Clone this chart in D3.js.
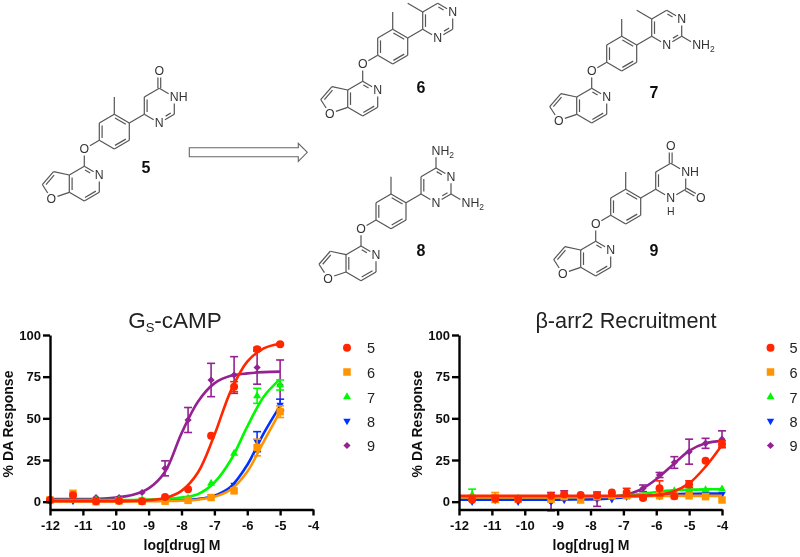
<!DOCTYPE html>
<html>
<head>
<meta charset="utf-8">
<script src="https://cdn.jsdelivr.net/npm/d3@7/dist/d3.min.js"></script>
<style>
  html, body { margin: 0; padding: 0; background: #fff; }
  text { font-family: "Liberation Sans", Arial, sans-serif; }
</style>
</head>
<body>
<div id="chart"></div>
<script>
// ---- compound labels, same order in both charts
const compounds = ["5", "6", "7", "8", "9"];
const colors = ["#FF2600", "#FF9300", "#00F900", "#0433FF", "#942192"];

// ---- left chart, Gs-cAMP
const gsDoses = [-12, -11.3, -10.6, -9.9, -9.2, -8.5, -7.8, -7.1, -6.4, -5.7, -5];
const gs5 = [1, 3.8, 0.3, 0.5, 0.3, 2.8, 7.5, 39.5, 69, 91.5, 94.5];
const gs6 = [1, 5, 0, 0.5, 0.3, 0.3, 0.8, 2.5, 6.5, 32.5, 54];
const gs7 = [1, 1, 1, 1, 1, 1.5, 2, 11, 29, 63.5, 70];
const gs8 = [0.5, 0.5, 0.5, 0.5, 0.5, 0.8, 1, 3, 10, 36, 58];
const gs9 = [1, 1.5, 2.5, 2.5, 5.5, 20, 49, 73, 76, 80.5, 70];
const gsErr5 = [0, 0, 0, 0, 0, 0, 0, 0, 3, 1, 0.5];
const gsErr6 = [0, 0, 0, 0, 0, 0, 0, 0, 0, 5, 3.5];
const gsErr7 = [0, 0, 0, 0, 0, 0, 0, 0, 0, 4.5, 3];
const gsErr8 = [0, 0, 0, 0, 0, 0, 0, 0, 0, 6, 3.5];
const gsErr9 = [0, 0, 0, 0, 0, 4.5, 7.5, 10, 11, 10, 15];
const gsCurveX = [-12, -11.5, -11, -10.5, -10, -9.5, -9, -8.5, -8, -7.5, -7, -6.5, -6, -5.5, -5];
const gsCurve5 = [0.3, 0.3, 0.3, 0.3, 0.3, 0.4, 0.9, 2.2, 6.5, 17.5, 40, 66.5, 84, 92, 94.8];
const gsCurve6 = [0.2, 0.2, 0.2, 0.2, 0.2, 0.2, 0.3, 0.4, 0.6, 1.2, 2.9, 7.3, 18, 36, 54];
const gsCurve7 = [1, 1, 1, 1, 1, 1, 1.2, 1.6, 2.5, 4.5, 11.5, 25, 45, 63, 73.5];
const gsCurve8 = [0.6, 0.6, 0.6, 0.6, 0.6, 0.6, 0.7, 0.8, 1, 1.6, 3.6, 9, 22, 41, 57.5];
const gsCurve9 = [1.6, 1.6, 1.6, 1.7, 2.5, 4, 8, 18, 41, 60, 71, 75.5, 77, 77.7, 78];

// ---- right chart, b-arr2
const arrDoses = [-11.6, -10.9, -10.2, -9.2, -8.8, -8.3, -7.8, -7.35, -6.9, -6.4, -5.9, -5.45, -5, -4.5, -4];
const arr5 = [1.2, 1.8, 1.5, 3.5, 4.5, 4, 3.8, 5.5, 5.5, 2.2, 8, 3.3, 10.5, 24.5, 34.5];
const arr6 = [2, 2.5, 1.5, 1.5, 3, 1, 3, 3.5, 3.5, 3, 3.5, 3.5, 3.5, 3, 1];
const arr7 = [4, 3, 2, 1, 3, 3, 3, 3, 3, 3.5, 6, 6.5, 7, 7, 7.5];
const arr8 = [0, 1, 0, 0, 1, 3, 2, 1.5, 3, 3, 3.5, 4, 4.5, 5, 4.5];
const arr9 = [2, 2, 2, 0, 5, 3.5, 1.5, 3, 4, 8, 16, 23.5, 30, 35, 37.5];
const arrErr5 = [0, 0, 0, 0, 0, 0, 0, 0, 2.5, 0, 4.5, 0, 2, 0, 2];
const arrErr6 = [0, 3, 0, 0, 0, 0, 0, 0, 0, 0, 0, 0, 0, 0, 0];
const arrErr7 = [3.5, 0, 0, 0, 0, 0, 0, 0, 0, 0, 0, 0, 0, 0, 0];
const arrErr8 = [0, 0, 0, 0, 0, 0, 0, 0, 0, 0, 0, 0, 0, 0, 0];
const arrErr9 = [0, 0, 0, 5.5, 1.5, 0, 4.3, 0, 0, 2, 1.5, 3.5, 7.5, 3, 5];
const arrCurveX = [-12, -11.5, -11, -10.5, -10, -9.5, -9, -8.5, -8, -7.5, -7, -6.5, -6, -5.5, -5, -4.5, -4];
const arrCurve5 = [3.5, 3.5, 3.5, 3.5, 3.5, 3.5, 3.5, 3.5, 3.5, 3.5, 3.5, 3.6, 4, 6, 11, 21, 34];
const arrCurve6 = [2.5, 2.5, 2.5, 2.5, 2.5, 2.5, 2.6, 2.7, 2.8, 2.9, 3, 3.2, 3.4, 3.5, 3.5, 3.5, 3.5];
const arrCurve7 = [2.8, 2.8, 2.8, 2.8, 2.8, 2.8, 2.8, 2.9, 3, 3.2, 3.5, 4.5, 5.8, 6.8, 7.2, 7.4, 7.5];
const arrCurve8 = [1.2, 1.2, 1.2, 1.2, 1.2, 1.2, 1.2, 1.3, 1.4, 1.8, 2.5, 3.3, 4, 4.5, 4.7, 4.8, 4.8];
const arrCurve9 = [2.5, 2.5, 2.5, 2.5, 2.5, 2.5, 2.5, 2.6, 2.6, 2.7, 3.8, 7, 13.5, 22, 30.5, 35, 36.5];

const yTicks = [0, 25, 50, 75, 100];
const gsXTicks = d3.range(-12, -3);
const arrXTicks = d3.range(-12, -3);

const svgRoot = d3.select("#chart").append("svg").attr("width", 800).attr("height", 557);
// the reference is a soft raster, keep the same softness
svgRoot.append("filter").attr("id", "soft").append("feGaussianBlur").attr("stdDeviation", 0.4);
const svg = svgRoot.append("g").attr("filter", "url(#soft)");
svg.append("rect").attr("width", 800).attr("height", 557).attr("fill", "#fff");

// ---- charts
function drawChart(opts) {
  const x = d3.scaleLinear().domain([-12, -4]).range([opts.left, opts.left + 263]);
  const y = d3.scaleLinear().domain([-4.7, 100]).range([509.5, 335]);
  const g = svg.append("g");

  const series = compounds.map((c, i) => ({
    name: c, color: colors[i], values: opts.values[i], errs: opts.errs[i], curve: opts.curves[i], index: i
  }));

  // first data set ends up on top, so draw backwards
  const line = d3.line().x(d => x(d[0])).y(d => y(d[1])).curve(d3.curveCatmullRom.alpha(0.5));
  series.slice().reverse().forEach(s => {
    const sg = g.append("g");
    sg.append("path")
      .datum(opts.curveX.map((v, i) => [v, s.curve[i]]))
      .attr("d", line).attr("fill", "none").attr("stroke", s.color).attr("stroke-width", 2.6);

    const bars = opts.doses.map((d, i) => [d, s.values[i], s.errs[i]]).filter(d => d[2] > 0);
    const eb = sg.selectAll(".eb").data(bars).enter().append("g")
      .attr("stroke", s.color).attr("stroke-width", 1.6).attr("fill", "none");
    eb.append("line").attr("x1", d => x(d[0])).attr("x2", d => x(d[0]))
      .attr("y1", d => y(d[1] - d[2])).attr("y2", d => y(d[1] + d[2]));
    [-1, 1].forEach(sign => {
      eb.append("line").attr("x1", d => x(d[0]) - 4).attr("x2", d => x(d[0]) + 4)
        .attr("y1", d => y(d[1] + sign * d[2])).attr("y2", d => y(d[1] + sign * d[2]));
    });

    sg.selectAll(".pt").data(opts.doses.map((d, i) => [d, s.values[i]])).enter().append("path")
      .attr("d", markerPath(s.index))
      .attr("transform", d => `translate(${x(d[0])},${y(d[1])})${markerRot(s.index)}`)
      .attr("fill", s.color);
  });

  const xAxis = d3.axisBottom(x).tickValues(opts.xTicks).tickFormat(d => d)
    .tickSizeInner(6).tickSizeOuter(0).tickPadding(5);
  const yAxis = d3.axisLeft(y).tickValues(yTicks).tickFormat(d => d)
    .tickSizeInner(7).tickSizeOuter(0).tickPadding(2);

  [g.append("g").attr("transform", `translate(0,509.5)`).call(xAxis),
   g.append("g").attr("transform", `translate(${opts.left},0)`).call(yAxis)].forEach(a => {
    a.selectAll("path,line").attr("stroke", "#000").attr("stroke-width", 2.4);
    a.selectAll("text").attr("font-size", 13).attr("font-weight", "bold").attr("fill", "#111")
      .style("font-family", '"Liberation Sans", Arial, sans-serif');
  });

  g.append("text").attr("x", opts.left + 132).attr("y", 550).attr("text-anchor", "middle")
    .attr("font-size", 14).attr("font-weight", "bold").attr("fill", "#111").text("log[drug] M");
  g.append("text").attr("transform", `translate(${opts.left - 37},424) rotate(-90)`)
    .attr("text-anchor", "middle").attr("font-size", 14).attr("font-weight", "bold").attr("fill", "#111")
    .text("% DA Response");

  // legend
  const leg = g.selectAll(".leg").data(series).enter().append("g")
    .attr("transform", (d, i) => `translate(${opts.legX},${[347.7, 372, 397, 421, 445.5][i]})`);
  leg.append("path").attr("d", d => markerPath(d.index))
    .attr("transform", d => markerRot(d.index)).attr("fill", d => d.color);
  leg.append("text").attr("x", opts.legDx).attr("y", 5.5).attr("font-size", 14.5).attr("fill", "#222").text(d => d.name);

  opts.title(g);
}

function markerPath(i) {
  const types = [d3.symbolCircle, d3.symbolSquare, d3.symbolTriangle, d3.symbolTriangle, d3.symbolSquare];
  const sizes = [50, 56, 28, 24, 26];
  return d3.symbol().type(types[i]).size(sizes[i])();
}
function markerRot(i) { return i === 3 ? " rotate(180)" : i === 4 ? " rotate(45)" : ""; }

drawChart({
  left: 50, doses: gsDoses, curveX: gsCurveX, xTicks: gsXTicks, legX: 347, legDx: 20,
  values: [gs5, gs6, gs7, gs8, gs9], errs: [gsErr5, gsErr6, gsErr7, gsErr8, gsErr9],
  curves: [gsCurve5, gsCurve6, gsCurve7, gsCurve8, gsCurve9],
  title: g => {
    const t = g.append("text").attr("x", 175).attr("y", 328).attr("text-anchor", "middle")
      .attr("font-size", 22.5).attr("fill", "#222");
    t.append("tspan").text("G");
    t.append("tspan").attr("font-size", 13).attr("dy", 4).text("S");
    t.append("tspan").attr("dy", -4).text("-cAMP");
  }
});
drawChart({
  left: 459, doses: arrDoses, curveX: arrCurveX, xTicks: arrXTicks, legX: 770.5, legDx: 19,
  values: [arr5, arr6, arr7, arr8, arr9], errs: [arrErr5, arrErr6, arrErr7, arrErr8, arrErr9],
  curves: [arrCurve5, arrCurve6, arrCurve7, arrCurve8, arrCurve9],
  title: g => {
    g.append("text").attr("x", 626).attr("y", 328).attr("text-anchor", "middle")
      .attr("font-size", 21.7).attr("fill", "#222").text("β-arr2 Recruitment");
  }
});

// ---- structures, atoms on a hexagon lattice around the ether oxygen
const LX = 15, LY = 8.67;
const scaffoldAtoms = {
  O0: [0, 0], a1: [1, -1], a2: [1, -3], a3: [2, -4], me: [2, -6], a4: [3, -3], a5: [3, -1], a6: [2, 0],
  p4: [0, 2], pN: [1, 3], p6: [1, 5], p7: [0, 6], p7a: [-1, 5], p3a: [-1, 3],
  f3: [-2.05, 2.6], f2: [-2.8, 4.1], fO: [-2.2, 5.7],
  s1: [4, -4], s2: [4, -6], s3: [5, -7], s4: [6, -6], s5: [6, -4], s6: [5, -3]
};
const PHENYL = [2, -2], PYRIDINE = [0, 4], FURAN = [-1.8, 4], SIDE = [5, -5];
const scaffoldBonds = [
  ["O0", "a1"], ["a1", "a2", PHENYL], ["a2", "a3"], ["a3", "me"], ["a3", "a4", PHENYL], ["a4", "a5"],
  ["a5", "a6", PHENYL], ["a6", "a1"], ["O0", "p4"], ["p4", "pN", PYRIDINE], ["pN", "p6"], ["p6", "p7", PYRIDINE],
  ["p7", "p7a"], ["p7a", "p3a", PYRIDINE], ["p3a", "p4"], ["p3a", "f3"], ["f3", "f2", FURAN], ["f2", "fO"],
  ["fO", "p7a"], ["a4", "s1"], ["s1", "s2", SIDE], ["s2", "s3"], ["s4", "s5"], ["s6", "s1"], ["s5", "s6", SIDE]
];
const scaffoldLabels = [["O0", "O"], ["pN", "N"], ["fO", "O"]];

const structures = [
  { name: "5", at: [84.3, 149], num: [146, 167],
    atoms: { o1: [5, -9] },
    bonds: [["s3", "o1", "cO"], ["s3", "s4"]],
    labels: [["o1", "O"], ["s4", "NH"], ["s6", "N"]] },
  { name: "6", at: [362.7, 64], num: [421, 87],
    atoms: { m2: [3, -7] },
    bonds: [["s2", "m2"], ["s3", "s4", SIDE]],
    labels: [["s4", "N"], ["s6", "N"]] },
  { name: "7", at: [591.7, 71], num: [654, 92],
    atoms: { m2: [3, -7], n2: [7, -3] },
    bonds: [["s2", "m2"], ["s3", "s4", SIDE], ["s5", "n2"]],
    labels: [["s4", "N"], ["s6", "N"], ["n2", "NH2"]] },
  { name: "8", at: [361, 228.7], num: [421, 250],
    atoms: { n1: [5, -9], n2: [7, -3] },
    bonds: [["s3", "n1"], ["s3", "s4", SIDE], ["s5", "n2"]],
    labels: [["s4", "N"], ["s6", "N"], ["n1", "NH2"], ["n2", "NH2"]] },
  { name: "9", at: [595.7, 224], num: [654, 250],
    atoms: { o1: [5, -9], o2: [7, -3] },
    bonds: [["s3", "o1", "cO"], ["s3", "s4"], ["s5", "o2", "cO"]],
    labels: [["o1", "O"], ["o2", "O"], ["s4", "NH"], ["s6", "N/H"]] }
];

structures.forEach(st => {
  const g = svg.append("g").attr("transform", `translate(${st.at[0]},${st.at[1]})`);
  const atoms = Object.assign({}, scaffoldAtoms, st.atoms);
  const px = p => [p[0] * LX, p[1] * LY];
  const bondG = g.append("g").attr("stroke", "#555").attr("stroke-width", 1.2).attr("fill", "none");
  const labels = scaffoldLabels.concat(st.labels);
  const labelled = new Set(labels.map(l => l[0]));

  // compound 9 has no s5=s6, that carbon holds the second ketone
  let bonds = scaffoldBonds.concat(st.bonds);
  if (st.name === "9") bonds = bonds.map(b => (b[0] === "s5" && b[1] === "s6") ? ["s5", "s6"] : b);

  bonds.forEach(b => {
    const a0 = px(atoms[b[0]]), a1 = px(atoms[b[1]]);
    const dx = a1[0] - a0[0], dy = a1[1] - a0[1], len = Math.hypot(dx, dy);
    const ux = dx / len, uy = dy / len, nx = -uy, ny = ux;
    // stop the bond short of an atom label
    const t0 = labelled.has(b[0]) ? 6.5 : 0, t1 = labelled.has(b[1]) ? 6.5 : 0;
    const p = [a0[0] + ux * t0, a0[1] + uy * t0], q = [a1[0] - ux * t1, a1[1] - uy * t1];
    if (b[2] === "cO") {
      [-1.4, 1.4].forEach(o => bondG.append("line")
        .attr("x1", p[0] + nx * o).attr("y1", p[1] + ny * o).attr("x2", q[0] + nx * o).attr("y2", q[1] + ny * o));
      return;
    }
    bondG.append("line").attr("x1", p[0]).attr("y1", p[1]).attr("x2", q[0]).attr("y2", q[1]);
    if (b[2]) {
      const c = px(b[2]);
      const side = ((c[0] - a0[0]) * nx + (c[1] - a0[1]) * ny) > 0 ? 1 : -1;
      const o = 2.8 * side, t = 2.4;
      bondG.append("line")
        .attr("x1", p[0] + ux * t + nx * o).attr("y1", p[1] + uy * t + ny * o)
        .attr("x2", q[0] - ux * t + nx * o).attr("y2", q[1] - uy * t + ny * o);
    }
  });

  labels.forEach(l => {
    const p = px(atoms[l[0]]);
    const single = l[1].length === 1;
    const t = g.append("text").attr("x", single || l[1] === "N/H" ? p[0] : p[0] - 4.5).attr("y", p[1] + 4.4)
      .attr("text-anchor", single || l[1] === "N/H" ? "middle" : "start")
      .attr("font-size", 12.3).attr("fill", "#333");
    if (l[1] === "NH2") {
      t.append("tspan").text("NH");
      t.append("tspan").attr("font-size", 8.5).attr("dy", 2.5).text("2");
    } else if (l[1] === "N/H") {
      t.text("N");
      // H sits under the N, as its own label
      g.append("text").attr("x", p[0]).attr("y", p[1] + 17).attr("text-anchor", "middle")
        .attr("font-size", 10.5).attr("fill", "#333").text("H");
    } else {
      t.text(l[1]);
    }
  });

  svg.append("text").attr("x", st.num[0]).attr("y", st.num[1] + 6).attr("text-anchor", "middle")
    .attr("font-size", 16).attr("font-weight", "bold").attr("fill", "#111").text(st.name);
});

// ---- reaction arrow
const arrowPts = [[189.3, 147.7], [298.3, 147.7], [298.3, 143.3], [307.3, 152.3], [298.3, 161.3], [298.3, 156.7], [189.3, 156.7]];
svg.append("path").attr("d", d3.line().curve(d3.curveLinearClosed)(arrowPts))
  .attr("fill", "#fff").attr("stroke", "#666").attr("stroke-width", 1.1);
</script>
</body>
</html>
